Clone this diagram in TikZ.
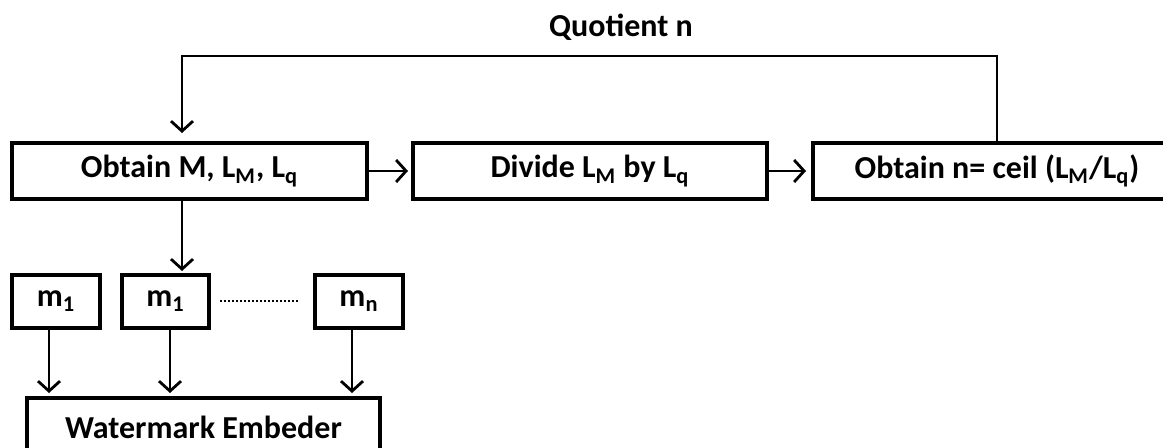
\documentclass[tikz,border=0pt]{standalone}
\usepackage{fontspec}
\setmainfont{Carlito}
\usetikzlibrary{arrows.meta}
\tikzset{
  box/.style={draw, line width=2pt, minimum height=28pt, inner sep=0pt, font=\fontsize{16}{18}\selectfont\bfseries},
  arr/.style={line width=1pt, -{Straight Barb[length=5pt,width=11pt,line width=1.4pt]}},
  ln/.style={line width=1pt}
}
\newcommand{\sbs}[1]{\textsubscript{#1}}
\begin{document}
\begin{tikzpicture}[x=0.5pt,y=-0.5pt]
\useasboundingbox (0,0) rectangle (1163,448);
\clip (0,0) rectangle (1163,448);
\node[box, minimum width=177.5pt] (obt) at (189.5,171) {Obtain M, L\sbs{M}, L\sbs{q}};
\node[box, minimum width=177pt] (div) at (590,171) {Divide L\sbs{M} by L\sbs{q}};
\node[box, minimum width=184pt] (ceil) at (997,171) {Obtain n= ceil (L\sbs{M}/L\sbs{q})};
\node[font=\fontsize{16}{18}\selectfont\bfseries] (quo) at (621,27) {Quotient n};
\node[box, minimum width=44pt, minimum height=26.5pt] (ma) at (56,301.5) {m\sbs{1}};
\node[box, minimum width=43.5pt, minimum height=26.5pt] (mb) at (165.5,301.5) {m\sbs{1}};
\node[box, minimum width=44pt, minimum height=26.5pt] (mn) at (359,301.5) {m\sbs{n}};
\node[box, minimum width=176.5pt, minimum height=29pt] (wm) at (203.5,427) {Watermark Embeder};
\coordinate (tr) at (997,56);
\coordinate (tl) at (182,56);
\draw[arr, shorten >=4pt] (ceil.north) -- (tr) -- (tl) -- (tl |- obt.north);
\draw[arr, shorten >=1.5pt] (obt.east) -- (div.west);
\draw[arr, shorten >=2.5pt] (div.east) -- (ceil.west);
\draw[arr, shorten >=1pt] ([xshift=-3.75pt]obt.south) -- ([xshift=-3.75pt]obt.south |- mb.north);
\draw[ln, dash pattern=on 1pt off 1pt] ([xshift=4.5pt]mb.east) -- ([xshift=-6.5pt]mn.west);
\draw[arr, shorten >=1.5pt] ([xshift=-3.5pt]ma.south) -- ([xshift=-3.5pt]ma.south |- wm.north);
\draw[arr, shorten >=1.5pt] ([xshift=2.25pt]mb.south) -- ([xshift=2.25pt]mb.south |- wm.north);
\draw[arr, shorten >=1.5pt] ([xshift=-3.5pt]mn.south) -- ([xshift=-3.5pt]mn.south |- wm.north);
\end{tikzpicture}
\end{document}
